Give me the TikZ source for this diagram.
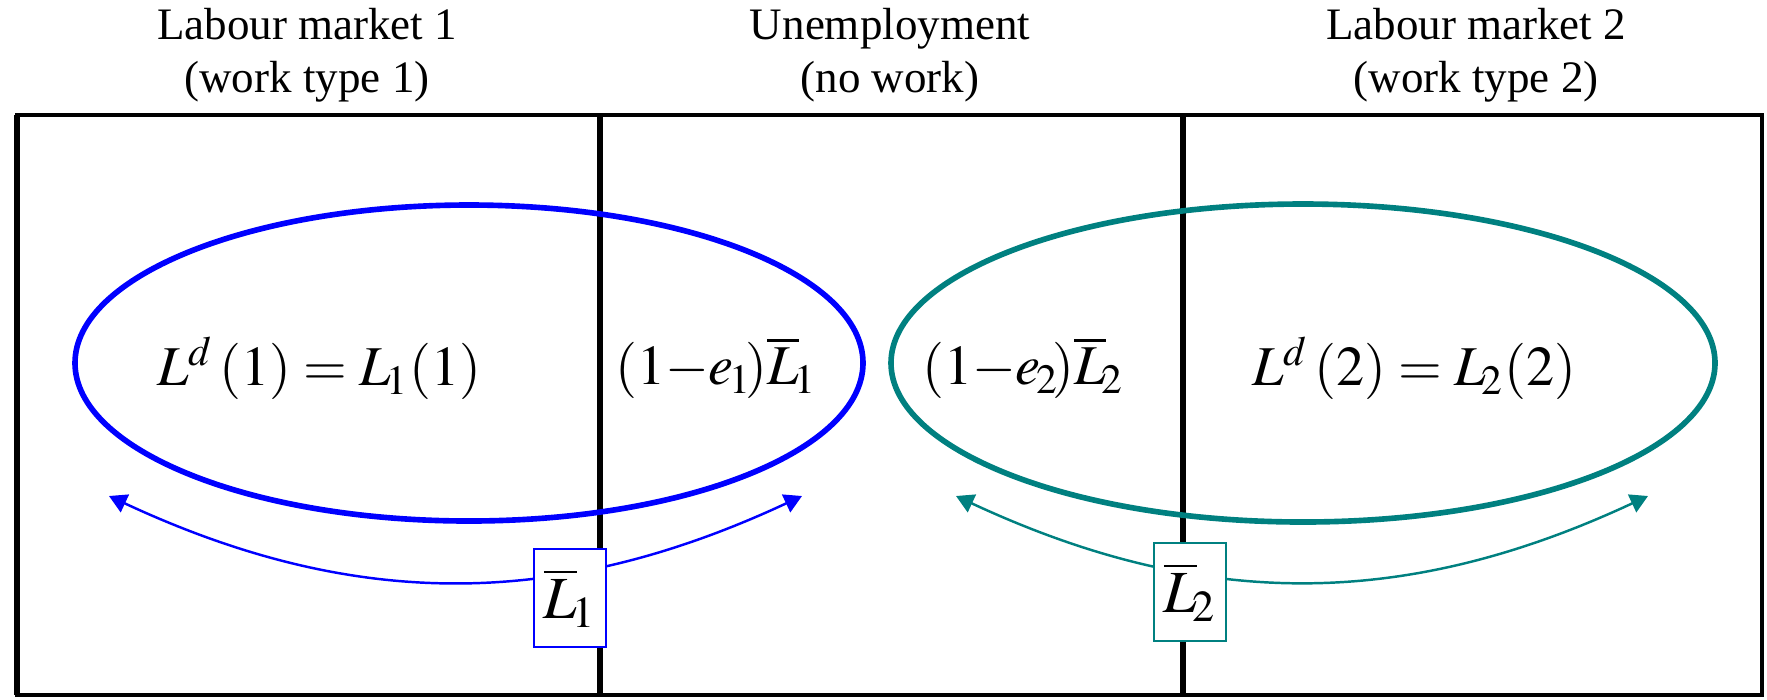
\documentclass[tikz,border=0pt]{standalone}
\usepackage{amsmath,amssymb}
\usepackage{mathptmx}
\usepackage{fontspec}
\setmainfont{Liberation Serif}
\usetikzlibrary{arrows.meta}

\begin{document}
\begin{tikzpicture}[x=0.01cm,y=-0.01cm,
  wall/.style={line width=1.6pt},
  ring1/.style={blue,line width=1.6pt},
  ring2/.style={teal,line width=1.6pt},
  flow/.style={{Triangle[width=5.5pt,length=5pt]}-{Triangle[width=5.5pt,length=5pt]},line width=0.7pt},
  title/.style={align=center,font=\fontsize{12.8}{15}\selectfont},
  expr/.style={font=\fontsize{16}{19}\selectfont},
  tag/.style={draw,fill=white,line width=0.6pt,minimum width=0.72cm,minimum height=0.98cm,inner sep=1pt,font=\fontsize{17}{20}\selectfont}]
  \useasboundingbox (0,0) rectangle (1767,699);
  \node[title] (m1) at (307,55) {Labour market 1\\(work type 1)};
  \node[title] (m0) at (890,55) {Unemployment\\(no work)};
  \node[title] (m2) at (1476,55) {Labour market 2\\(work type 2)};
  \draw[line width=1.1pt] (17,115) rectangle (1762,695);
  \draw[wall] (17,115) -- (17,695);
  \draw[wall] (600,115) -- (600,695);
  \draw[wall] (1183,115) -- (1183,695);
  \draw[ring1] (469,363) ellipse [x radius=394, y radius=158];
  \draw[ring2] (1303,363) ellipse [x radius=412, y radius=159];
  \node[expr] (d1) at (319,368) {$L^{d}\,(1) = L_{\!1}(1)$};
  \node[expr] (u1) at (716,368) {$(1{-}e_{\!1}\!)\overline{L}_{\!1}$};
  \node[expr] (u2) at (1023,368) {$(1{-}e_{\!2}\!)\overline{L}_{\!2}$};
  \node[expr] (d2) at (1414,368) {$L^{d}\,(2) = L_{\!2}(2)$};
  \coordinate (w1) at (109,496);
  \coordinate (e1) at (802,496);
  \coordinate (w2) at (956,496);
  \coordinate (e2) at (1648,496);
  \draw[flow,blue] (w1) to[bend right=25] (e1);
  \draw[flow,teal] (w2) to[bend right=25] (e2);
  \node[tag,draw=blue] (s1) at (570,598) {$\overline{L}_{\!1}$};
  \node[tag,draw=teal] (s2) at (1190,592) {$\overline{L}_{\!2}$};
\end{tikzpicture}
\end{document}
